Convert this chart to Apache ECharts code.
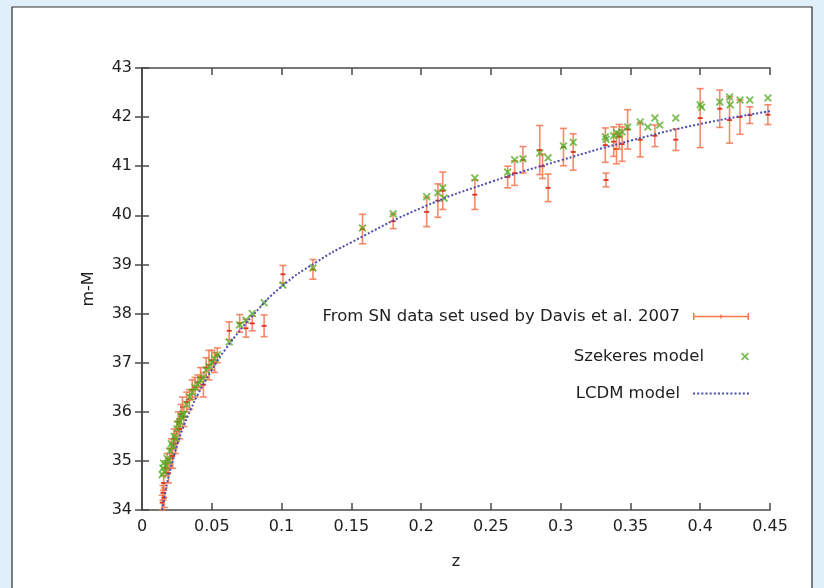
<!DOCTYPE html>
<html>
<head>
<meta charset="utf-8">
<script src="https://cdn.jsdelivr.net/npm/echarts@6/dist/echarts.min.js"></script>
<style>
html,body{margin:0;padding:0;background:#dff0fb;}
#c{width:824px;height:588px;}
</style>
</head>
<body>
<div id="c"></div>
<script>
// SN data (Davis et al. 2007): redshift, distance modulus, error
const snZ = [0.0145,0.015,0.0155,0.016,0.017,0.018,0.019,0.020,0.021,0.022,0.023,0.024,0.025,0.026,0.027,0.028,0.029,0.030,0.032,0.034,0.036,0.038,0.040,0.042,0.044,0.046,0.048,0.050,0.052,0.054,0.0625,0.070,0.0745,0.079,0.0875,0.101,0.1225,0.158,0.180,0.204,0.212,0.2155,0.2385,0.262,0.267,0.273,0.285,0.287,0.291,0.302,0.309,0.332,0.3325,0.338,0.340,0.342,0.344,0.348,0.357,0.3675,0.3825,0.400,0.414,0.421,0.4285,0.4355,0.4485];
const snMu = [34.15,34.35,34.55,34.25,34.85,34.95,34.75,35.05,35.25,35.1,35.45,35.35,35.6,35.8,35.65,35.95,36.1,35.9,36.2,36.25,36.45,36.5,36.6,36.7,36.55,36.9,36.95,37.05,37.0,37.15,37.65,37.8,37.7,37.8,37.75,38.8,38.9,39.72,39.88,40.07,40.3,40.5,40.42,40.78,40.86,41.13,41.33,41.0,40.56,41.39,41.29,41.43,40.72,41.5,41.35,41.6,41.45,41.75,41.54,41.62,41.54,41.98,42.17,41.94,42.0,42.04,42.05];
const snErr = [0.15,0.15,0.15,0.2,0.15,0.2,0.2,0.2,0.2,0.25,0.2,0.2,0.2,0.2,0.2,0.2,0.2,0.2,0.2,0.2,0.2,0.2,0.15,0.2,0.25,0.2,0.3,0.2,0.2,0.15,0.18,0.18,0.18,0.15,0.22,0.18,0.2,0.3,0.15,0.3,0.34,0.38,0.3,0.22,0.25,0.27,0.5,0.25,0.28,0.38,0.37,0.35,0.14,0.3,0.3,0.25,0.35,0.4,0.35,0.22,0.22,0.6,0.38,0.47,0.35,0.17,0.2];

// Szekeres model points
const szZ = [0.0145,0.015,0.0155,0.016,0.017,0.018,0.019,0.020,0.021,0.022,0.023,0.024,0.025,0.026,0.027,0.028,0.029,0.030,0.032,0.034,0.036,0.038,0.040,0.042,0.044,0.046,0.048,0.050,0.052,0.054,0.0625,0.070,0.0745,0.079,0.0875,0.101,0.1225,0.158,0.180,0.204,0.212,0.2155,0.2165,0.2385,0.262,0.267,0.273,0.285,0.291,0.302,0.309,0.332,0.3325,0.338,0.340,0.342,0.344,0.348,0.357,0.3625,0.3675,0.371,0.3825,0.400,0.401,0.414,0.421,0.4215,0.4285,0.4355,0.4485];
const szMu = [34.72,34.85,34.95,34.78,34.9,35.05,35.0,35.2,35.35,35.3,35.5,35.45,35.65,35.75,35.8,35.9,35.95,35.95,36.15,36.3,36.4,36.5,36.55,36.65,36.7,36.85,36.92,37.0,37.08,37.16,37.42,37.77,37.87,38.0,38.22,38.58,38.93,39.74,40.03,40.38,40.46,40.56,40.35,40.76,40.88,41.13,41.15,41.27,41.17,41.41,41.49,41.6,41.55,41.62,41.68,41.65,41.7,41.8,41.9,41.8,41.98,41.84,41.98,42.25,42.2,42.31,42.41,42.25,42.35,42.35,42.39];

// LCDM model curve
const lcdmZ = [0.0145,0.016,0.018,0.02,0.025,0.03,0.035,0.04,0.05,0.06,0.08,0.1,0.125,0.15,0.2,0.25,0.3,0.35,0.4,0.45];
const lcdmMu = [34.0,34.25,34.55,34.8,35.3,35.72,36.05,36.35,36.85,37.28,37.98,38.55,39.05,39.45,40.15,40.68,41.12,41.52,41.86,42.12];

const seriesNames = ['From SN data set used by Davis et al. 2007','Szekeres model','LCDM model'];

const errColor = '#f27650';
const midColor = '#e0301a';
const greenColor = '#58ad28';
const lcdmColor = '#4e4eb2';
const textColor = '#1e1e1e';
const font = 'DejaVu Sans';

const chart = echarts.init(document.getElementById('c'), null, {renderer:'canvas'});

const snIcon = 'path://M0,4.3 L56,4.3 L56,5.7 L0,5.7 Z M0,1.5 L1.5,1.5 L1.5,8.5 L0,8.5 Z M27.3,3 L28.7,3 L28.7,7 L27.3,7 Z M54.5,1.5 L56,1.5 L56,8.5 L54.5,8.5 Z';
const xIcon = 'path://M1.6,0 L5,3.4 L8.4,0 L10,1.6 L6.6,5 L10,8.4 L8.4,10 L5,6.6 L1.6,10 L0,8.4 L3.4,5 L0,1.6 Z';
let dotParts = [];
for (let k = 0; k < 14; k++) { const a = k * 4; dotParts.push('M' + a + ',4 L' + (a + 2) + ',4 L' + (a + 2) + ',6 L' + a + ',6 Z'); }
const dotIcon = 'path://' + dotParts.join(' ');

const axisLineStyle = {color:'#4a4a4a', width:1.6};
const tickStyle = {color:'#4a4a4a', width:1.5};

function legendAt(top, name, icon, w, h){
  return {
    data:[{name:name, icon:icon}],
    right:70, top:top, orient:'vertical', align:'right',
    itemWidth:w, itemHeight:h, itemGap:0,
    textStyle:{fontFamily:font, fontSize:16.5, color:textColor, padding:[0,8,0,0]},
    selectedMode:false
  };
}

chart.setOption({
  backgroundColor:'#dff0fb',
  animation:false,
  graphic:[{type:'rect', z:-10, silent:true, shape:{x:12, y:7, width:800, height:620},
    style:{fill:'#ffffff', stroke:'#303030', lineWidth:1.2}}],
  grid:{left:142, right:54, top:68, bottom:78},
  legend:[
    legendAt(303, seriesNames[0], snIcon, 56, 10),
    legendAt(343, seriesNames[1], xIcon, 56, 8),
    legendAt(380, seriesNames[2], dotIcon, 56, 10)
  ],
  xAxis:[
    {type:'value', min:0, max:0.45, interval:0.05, position:'bottom',
     name:'z', nameLocation:'middle', nameGap:44,
     nameTextStyle:{fontFamily:font, fontSize:16, color:textColor},
     axisLine:{show:true, lineStyle:axisLineStyle},
     axisTick:{show:true, inside:true, length:7, lineStyle:tickStyle},
     axisLabel:{fontFamily:font, fontSize:16, color:textColor, margin:9},
     splitLine:{show:false}},
    {type:'value', min:0, max:0.45, interval:0.05, position:'top',
     axisLine:{show:true, lineStyle:axisLineStyle},
     axisTick:{show:true, inside:true, length:7, lineStyle:tickStyle},
     axisLabel:{show:false}, splitLine:{show:false}}
  ],
  yAxis:[
    {type:'value', min:34, max:43, interval:1, position:'left',
     name:'m-M', nameLocation:'middle', nameGap:45, nameRotate:90,
     nameTextStyle:{fontFamily:font, fontSize:16, color:textColor},
     axisLine:{show:true, lineStyle:axisLineStyle},
     axisTick:{show:true, inside:true, length:7, lineStyle:tickStyle},
     axisLabel:{fontFamily:font, fontSize:16, color:textColor, margin:10},
     splitLine:{show:false}},
    {type:'value', min:34, max:43, interval:1, position:'right',
     axisLine:{show:true, lineStyle:axisLineStyle},
     axisTick:{show:true, inside:true, length:7, lineStyle:tickStyle},
     axisLabel:{show:false}, splitLine:{show:false}}
  ],
  series:[
    {
      name:seriesNames[0], type:'custom', z:2,
      itemStyle:{color:errColor},
      data: snZ.map((z,i)=>[z, snMu[i], snErr[i]]),
      encode:{x:0, y:1},
      renderItem:function(params, api){
        const x = api.value(0), y = api.value(1), e = api.value(2);
        const lo = Math.max(34, y - e), hi = Math.min(43, y + e);
        const t = api.coord([x, hi]), b = api.coord([x, lo]), m = api.coord([x, y]);
        const hw = 3.5;
        const st = {stroke:errColor, lineWidth:1.6, opacity:0.85};
        return {type:'group', children:[
          {type:'line', shape:{x1:t[0], y1:t[1], x2:b[0], y2:b[1]}, style:st},
          {type:'line', shape:{x1:t[0]-hw, y1:t[1], x2:t[0]+hw, y2:t[1]}, style:st},
          {type:'line', shape:{x1:b[0]-hw, y1:b[1], x2:b[0]+hw, y2:b[1]}, style:st},
          {type:'line', shape:{x1:m[0]-2.5, y1:m[1], x2:m[0]+2.5, y2:m[1]}, style:{stroke:midColor, lineWidth:1.8}}
        ]};
      }
    },
    {
      name:seriesNames[1], type:'scatter', z:3,
      symbol:xIcon, symbolSize:8,
      itemStyle:{color:greenColor},
      data: szZ.map((z,i)=>[z, szMu[i]])
    },
    {
      name:seriesNames[2], type:'line', z:4, symbol:'none', smooth:true,
      lineStyle:{color:lcdmColor, width:2, type:'dotted'},
      itemStyle:{color:lcdmColor},
      data: lcdmZ.map((z,i)=>[z, lcdmMu[i]])
    }
  ]
});
</script>
</body>
</html>
